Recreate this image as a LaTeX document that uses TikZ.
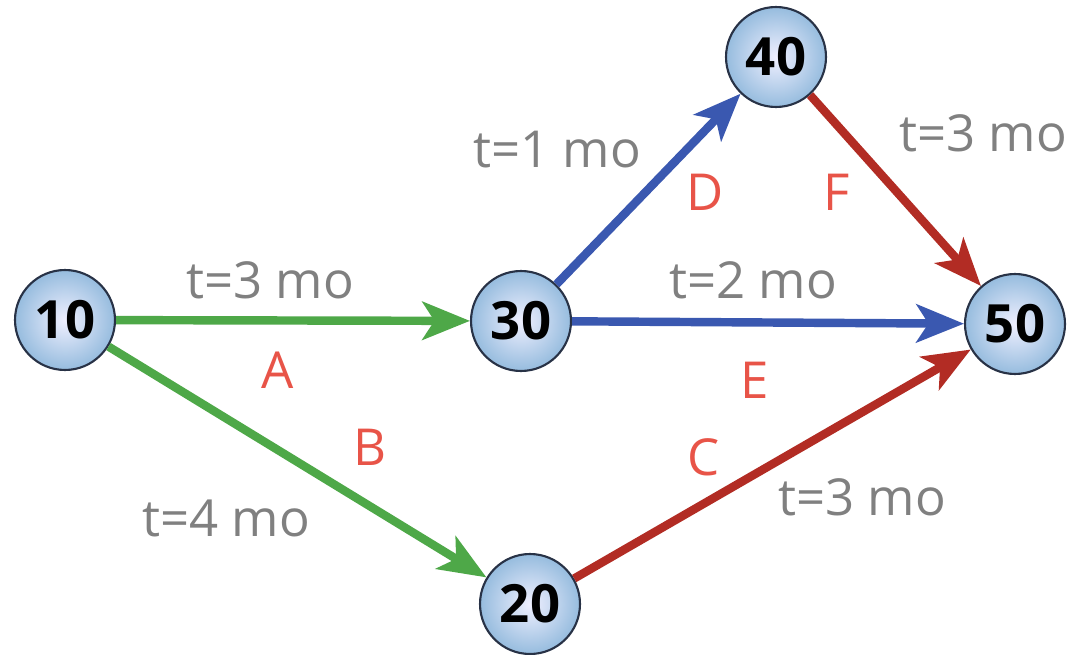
\documentclass[tikz,border=0pt]{standalone}
\usepackage{fontspec}
\setsansfont{Open Sans}
\usetikzlibrary{arrows.meta,positioning}

\definecolor{evtfill}{RGB}{150,188,222}
\definecolor{evtline}{RGB}{40,50,70}
\definecolor{actgreen}{RGB}{78,168,72}
\definecolor{actblue}{RGB}{58,88,176}
\definecolor{actred}{RGB}{178,44,36}
\definecolor{lblred}{RGB}{232,84,72}
\definecolor{lblgray}{RGB}{128,128,128}

\begin{document}
\begin{tikzpicture}[x=0.02cm, y=-0.02cm,
  evt/.style={circle, draw=evtline, line width=1.2pt, inner color=blue!6,
    outer color=evtfill, minimum size=2cm, inner sep=0pt,
    font=\sffamily\bfseries\fontsize{30}{32}\selectfont},
  act/.style={line width=4.8pt, -{Stealth[length=0.95cm, width=0.76cm, inset=0.24cm]}},
  dur/.style={text=lblgray, font=\sffamily\fontsize{29}{32}\selectfont},
  tag/.style={text=lblred, font=\sffamily\fontsize{29}{32}\selectfont},
]
\useasboundingbox (0,0) rectangle (1091,655);

%--- Ereignisse ---
\node[evt] (e10) at (65, 320)   {10};
\node[evt] (e30) at (521, 321)  {30};
\node[evt] (e40) at (776, 57)   {40};
\node[evt] (e50) at (1015, 324) {50};
\node[evt] (e20) at (530, 604)  {20};

%--- Vorgaenge ---
\draw[act, actgreen] (e10) -- (e30);
\draw[act, actgreen] (e10) -- (e20);
\draw[act, actblue]  (e30) -- (e40);
\draw[act, actblue]  (e30) -- (e50);
\draw[act, actred]   (e40) -- (e50);
\draw[act, actred]   (e20) -- (e50);

%--- Dauern ---
\node[dur] (dA) at (270, 280) {t=3 mo};
\node[dur] (dB) at (226, 518) {t=4 mo};
\node[dur] (dD) at (557, 150) {t=1 mo};
\node[dur] (dE) at (753, 280) {t=2 mo};
\node[dur] (dF) at (983, 133) {t=3 mo};
\node[dur] (dC) at (862, 497) {t=3 mo};

%--- Bezeichnungen ---
\node[tag] (tA) at (278, 370) {A};
\node[tag] (tB) at (370, 447) {B};
\node[tag] (tC) at (704, 457) {C};
\node[tag] (tD) at (705, 192) {D};
\node[tag] (tE) at (755, 380) {E};
\node[tag] (tF) at (837, 192) {F};

\end{tikzpicture}
\end{document}
